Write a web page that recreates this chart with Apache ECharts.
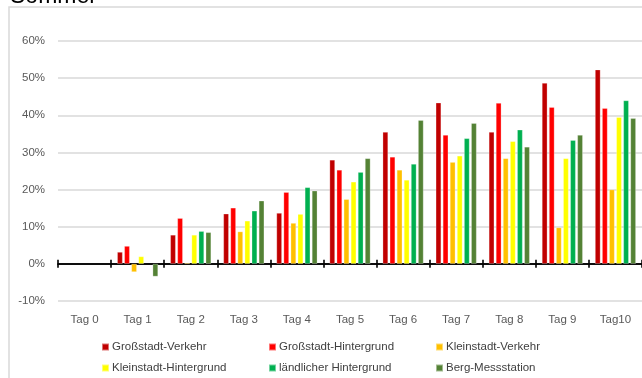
<!DOCTYPE html>
<html><head><meta charset="utf-8">
<script src="https://cdn.jsdelivr.net/npm/echarts@6/dist/echarts.min.js"></script>
<style>html,body{margin:0;padding:0;background:#fff}#c{width:642px;height:378px}</style>
</head><body><div id="c"></div>
<script>
const categories = ['Tag 0','Tag 1','Tag 2','Tag 3','Tag 4','Tag 5','Tag 6','Tag 7','Tag 8','Tag 9','Tag10'];
const grossstadtVerkehr    = [null, 3.2, 7.8, 13.5, 13.7, 28.0, 35.5, 43.4, 35.5, 48.7, 52.3];
const grossstadtHintergrund= [null, 4.8, 12.3, 15.1, 19.3, 25.3, 28.8, 34.7, 43.3, 42.2, 41.9];
const kleinstadtVerkehr    = [null, -2.2, 0.3, 8.7, 11.0, 17.4, 25.3, 27.4, 28.4, 9.8, 20.0];
const kleinstadtHintergrund= [null, 2.0, 7.8, 11.6, 13.4, 22.1, 22.6, 29.1, 33.0, 28.4, 39.5];
const laendlicherHintergrund=[null, null, 8.8, 14.3, 20.6, 24.7, 26.9, 33.8, 36.1, 33.3, 44.0];
const bergMessstation      = [null, -3.4, 8.5, 17.0, 19.7, 28.4, 38.7, 37.9, 31.5, 34.7, 39.2];
const seriesNames = ['Großstadt-Verkehr','Großstadt-Hintergrund','Kleinstadt-Verkehr','Kleinstadt-Hintergrund','ländlicher Hintergrund','Berg-Messstation'];
const seriesData = [grossstadtVerkehr, grossstadtHintergrund, kleinstadtVerkehr, kleinstadtHintergrund, laendlicherHintergrund, bergMessstation];
const colors = ['#C00000','#FF0000','#FFC000','#FFFF00','#00B050','#548235'];
const yTicks = [-10, 0, 10, 20, 30, 40, 50, 60];

const FONT = 'Liberation Sans';
const chart = echarts.init(document.getElementById('c'));
const series = seriesNames.map((n, i) => ({
  name: n, type: 'bar', xAxisIndex: 0, data: seriesData[i],
  barGap: '30%', barCategoryGap: '23%',
  itemStyle: { color: colors[i], borderColor: 'rgba(255,255,255,0.45)', borderWidth: 0.6 }
}));
const legendPos = [[101,341],[268,341],[435,341],[101,362],[268,362],[435,362]];
const legends = seriesNames.map((n, i) => ({
  orient: 'horizontal', icon: 'rect', itemWidth: 7, itemHeight: 7,
  left: legendPos[i][0], top: legendPos[i][1], padding: 0, data: [n], selectedMode: false,
  textStyle: { fontFamily: FONT, fontSize: 11.5, color: '#404040', padding: [0,0,0,-2] }
}));
chart.setOption({
  animation: false,
  color: colors,
  graphic: [
    { type: 'rect', shape: { x: 9, y: 7, width: 700, height: 420 }, style: { fill: 'none', stroke: '#d9d9d9', lineWidth: 1.5 }, z: -1 },
    { type: 'text', x: 10, y: 8, z: 10, style: { x: 0, y: 0, text: 'Sommer', fontSize: 23, fontFamily: FONT, fill: '#000', verticalAlign: 'bottom', align: 'left' } }
  ],
  grid: { left: 58, top: 41, width: 587, height: 260, containLabel: false },
  legend: legends,
  xAxis: [
    { type: 'category', data: categories, position: 'bottom',
      axisLine: { onZero: true, onZeroAxisIndex: 0, lineStyle: { color: '#000', width: 1.6 } },
      axisTick: { show: true, length: 4, inside: false, lineStyle: { color: '#000', width: 1.6 } },
      axisLabel: { show: false }, splitLine: { show: false } },
    { type: 'category', data: categories, position: 'bottom',
      axisLine: { onZero: true, onZeroAxisIndex: 0, lineStyle: { color: '#000', width: 1.6 } },
      axisTick: { show: true, length: 4, inside: true, lineStyle: { color: '#000', width: 1.6 } },
      axisLabel: { show: false }, splitLine: { show: false } },
    { type: 'category', data: categories, position: 'bottom',
      axisLine: { show: false, onZero: false }, axisTick: { show: false },
      axisLabel: { show: true, margin: 13, fontFamily: FONT, fontSize: 11.5, color: '#595959', interval: 0 } }
  ],
  yAxis: { type: 'value', min: yTicks[0], max: yTicks[yTicks.length-1], interval: 10,
    axisLine: { show: false }, axisTick: { show: false },
    axisLabel: { margin: 13, fontFamily: FONT, fontSize: 11.5, color: '#595959', formatter: v => v + '%' },
    splitLine: { lineStyle: { color: '#d9d9d9', width: 1.5 } } },
  series: series
});
</script></body></html>
